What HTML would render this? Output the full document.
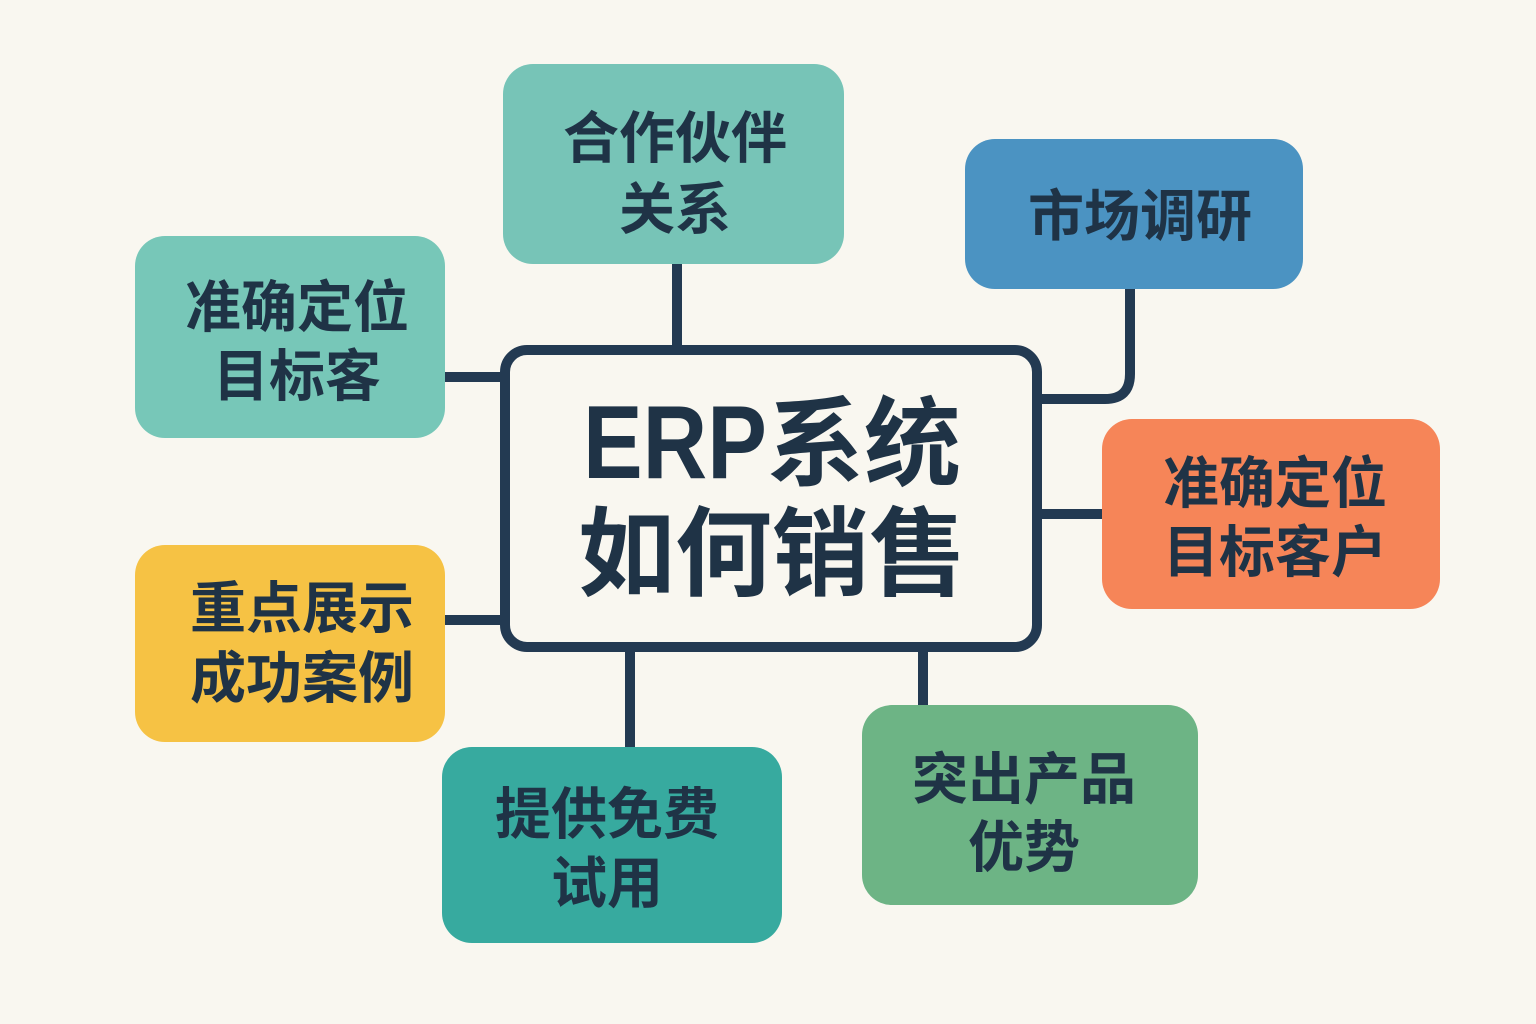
<!DOCTYPE html>
<html>
<head>
<meta charset="utf-8">
<style>
  html, body { margin:0; padding:0; }
  body { width:1536px; height:1024px; background:#f9f7f0; position:relative; overflow:hidden;
         font-family:"Liberation Sans","Noto Sans CJK SC",sans-serif; }
  svg { position:absolute; left:0; top:0; }
  .t { position:absolute; width:400px; text-align:center; color:#1f3346; font-weight:700;
       font-size:56px; white-space:nowrap; }
  .title { position:absolute; width:600px; text-align:center; color:#1f3346; font-weight:700;
       font-size:97px; line-height:110px; white-space:nowrap; }
  .erp { display:inline-block; font-size:104px; line-height:104px; transform:scaleX(0.86);
         transform-origin:left center; margin-right:-30px; }
</style>
</head>
<body>
<svg width="1536" height="1024" viewBox="0 0 1536 1024">
  <g stroke="#233a52" stroke-width="10" fill="none">
    <line x1="677" y1="262" x2="677" y2="350"/>
    <line x1="443" y1="377" x2="505" y2="377"/>
    <line x1="443" y1="620" x2="505" y2="620"/>
    <line x1="1037" y1="514" x2="1104" y2="514"/>
    <path d="M1130 287 L1130 374 Q1130 399 1105 399 L1037 399"/>
    <line x1="630" y1="647" x2="630" y2="749"/>
    <line x1="923" y1="647" x2="923" y2="707"/>
  </g>
  <rect x="503" y="64" width="341" height="200" rx="30" fill="#77c4b7"/>
  <rect x="135" y="236" width="310" height="202" rx="30" fill="#77c7b8"/>
  <rect x="965" y="139" width="338" height="150" rx="30" fill="#4b93c2"/>
  <rect x="1102" y="419" width="338" height="190" rx="30" fill="#f68558"/>
  <rect x="135" y="545" width="310" height="197" rx="30" fill="#f6c244"/>
  <rect x="442" y="747" width="340" height="196" rx="30" fill="#37aa9f"/>
  <rect x="862" y="705" width="336" height="200" rx="30" fill="#6db485"/>
  <rect x="505" y="350" width="532" height="297" rx="22" fill="#f9f7f0" stroke="#233a52" stroke-width="10"/>
</svg>

<div class="t" style="left:475px; top:103px; line-height:71px;">合作伙伴<br>关系</div>
<div class="t" style="left:97px; top:273px; line-height:69px;">准确定位<br>目标客</div>
<div class="t" style="left:940px; top:187px; line-height:60px;">市场调研</div>
<div class="t" style="left:1075px; top:449px; line-height:69px;">准确定位<br>目标客户</div>
<div class="t" style="left:102px; top:574px; line-height:70px;">重点展示<br>成功案例</div>
<div class="t" style="left:407px; top:780px; line-height:69px;">提供免费<br>试用</div>
<div class="t" style="left:824px; top:746px; line-height:68px;">突出产品<br>优势</div>

<div class="title" style="left:472px; top:390px;"><span class="erp">ERP</span>系统<br>如何销售</div>
</body>
</html>
